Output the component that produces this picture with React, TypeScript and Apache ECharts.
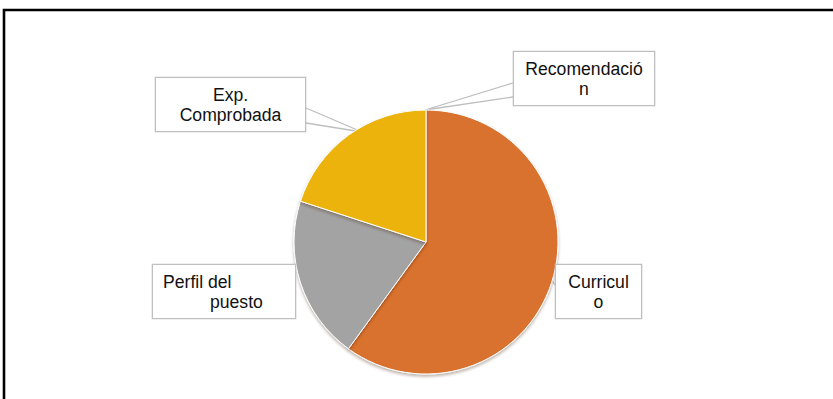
import React, { useEffect, useRef } from "react";
import * as echarts from "echarts";

const categories = ["Curriculo", "Perfil del puesto", "Exp. Comprobada", "Recomendación"];
const values = [60, 20, 20, 0];
const wrappedLabels = ["Curricul\no", "{a|Perfil del}\n{b|puesto}", "Exp.\nComprobada", "Recomendació\nn"];
const colors = ["#D9722F", "#A3A3A3", "#EDB308", "#5B9BD5"];

type Box = { x: number; y: number; w: number; h: number; align: "center" | "left"; pointer: number[][] | null };
const boxes: Box[] = [
  { x: 555, y: 265, w: 87, h: 53, align: "center", pointer: [[555, 273], [551, 279], [555, 285]] },
  { x: 153, y: 265, w: 144, h: 53, align: "left", pointer: null },
  { x: 155, y: 78, w: 151, h: 53, align: "center", pointer: [[306, 108], [362, 132], [306, 123]] },
  { x: 513, y: 52, w: 142, h: 53, align: "center", pointer: [[513, 83], [425, 110], [513, 97]] },
];

const FONT = "'Liberation Sans', Arial, sans-serif";
const FS = 17.6;

export default function App() {
  const ref = useRef<HTMLDivElement>(null);
  useEffect(() => {
    if (!ref.current) return;
    const chart = echarts.init(ref.current, undefined, { renderer: "svg" });
    const data = categories.map((name, i) => {
      const b = boxes[i];
      const padL = b.align === "left" ? 10 : 3;
      return {
        name,
        value: values[i],
        itemStyle: { color: colors[i] },
        label: {
          width: b.w - padL - 3 - 2,
          height: 40,
          padding: [7, 3, 6, padL],
          align: b.align,
        },
        labelLine: { show: !!b.pointer },
      };
    });
    chart.setOption({
      animation: false,
      graphic: [
        {
          type: "rect",
          shape: { x: 4, y: 10, width: 900, height: 500 },
          style: { fill: "none", stroke: "#000", lineWidth: 2.6 },
          silent: true,
          z: 100,
        },
      ],
      series: [
        {
          type: "pie",
          center: [426, 242],
          radius: 132,
          startAngle: 90,
          clockwise: true,
          silent: true,
          emphasis: { disabled: true },
          itemStyle: {
            borderColor: "#fff",
            borderWidth: 1,
            shadowColor: "rgba(60,30,10,0.35)",
            shadowBlur: 3,
            shadowOffsetY: 2,
          },
          label: {
            show: true,
            position: "outside",
            formatter: (p: any) => wrappedLabels[p.dataIndex],
            fontFamily: FONT,
            fontSize: FS,
            lineHeight: 20,
            color: "#111",
            backgroundColor: "#fff",
            borderColor: "#bfbfbf",
            borderWidth: 1.3,
            rich: {
              a: { fontFamily: FONT, fontSize: FS, lineHeight: 20, color: "#111" },
              b: { fontFamily: FONT, fontSize: FS, lineHeight: 20, color: "#111", padding: [0, 0, 0, 47] },
            },
          },
          labelLine: {
            show: true,
            length: 10,
            length2: 10,
            lineStyle: { color: "#bfbfbf", width: 1.3 },
          },
          labelLayout: (params: any) => {
            const b = boxes[params.dataIndex];
            const res: any = {
              x: b.align === "center" ? b.x + b.w / 2 : b.x,
              y: b.y,
              align: b.align,
              verticalAlign: "top",
            };
            if (b.pointer) res.labelLinePoints = b.pointer;
            return res;
          },
          data,
        },
      ],
    });
    return () => chart.dispose();
  }, []);
  return (
    <div
      ref={ref}
      style={{ position: "fixed", left: 0, top: 0, width: 833, height: 399, background: "#fff" }}
    />
  );
}
